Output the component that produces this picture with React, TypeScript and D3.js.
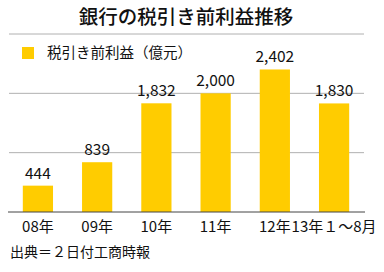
import React from "react";
import * as d3 from "d3";

const categories = ["08年", "09年", "10年", "11年", "12年", "13年１～8月"];
const values = [444, 839, 1832, 2000, 2402, 1830];
const gridTicks = [1000, 2000, 3000];
const title = "銀行の税引き前利益推移";
const legendLabel = "税引き前利益（億元）";
const source = "出典＝２日付工商時報";

const W = 384;
const H = 272;
const left = 8;
const right = 364;
const baseY = 212;
const topY = 34;
const font = "'Noto Sans CJK JP', 'Noto Sans', sans-serif";

export default function App() {
  const x = d3.scaleBand<string>().domain(categories).range([left, right]).paddingInner(0.49).paddingOuter(0.25);
  const y = d3.scaleLinear().domain([0, 3000]).range([baseY, topY]);
  const fmt = d3.format(",");
  return (
    <svg width={W} height={H} style={{ position: "absolute", left: 0, top: 0, background: "#fff" }} fontFamily={font}>
      <text x={186} y={24} textAnchor="middle" fontSize={19.5} fontWeight={500} fill="#111">{title}</text>
      {gridTicks.map((t) => (
        <line key={t} x1={9} x2={364} y1={y(t)} y2={y(t)} stroke="#b0b0b0" strokeWidth={1} />
      ))}
      <rect x={22} y={47} width={12} height={12} fill="#FFCC00" />
      <text x={47} y={58} fontSize={14.5} fill="#111">{legendLabel}</text>
      {values.map((v, i) => (
        <g key={i}>
          <rect x={x(categories[i])!} y={y(v)} width={x.bandwidth()} height={baseY - y(v)} fill="#FFCC00" />
          <text x={x(categories[i])! + x.bandwidth() / 2} y={y(v) - 7} textAnchor="middle" fontSize={15.5} fill="#111">{fmt(v)}</text>
        </g>
      ))}
      <line x1={8} x2={365} y1={baseY} y2={baseY} stroke="#444" strokeWidth={1} />
      {categories.map((c) => (
        <text key={c} x={x(c)! + x.bandwidth() / 2} y={232} textAnchor="middle" fontSize={15} fill="#111">{c}</text>
      ))}
      <text x={10} y={257} fontSize={14} fill="#111">{source}</text>
    </svg>
  );
}
